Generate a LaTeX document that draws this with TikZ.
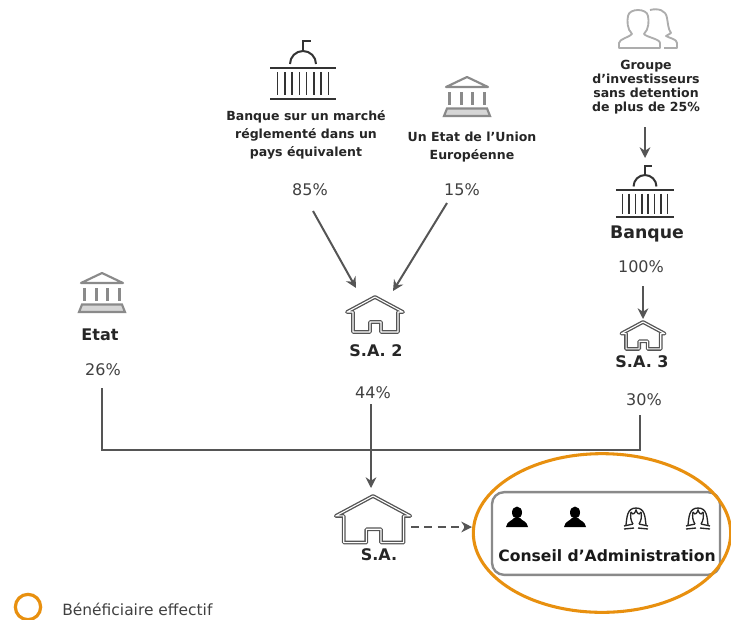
\documentclass[tikz,border=0pt]{standalone}
\usepackage{fontspec}
\setmainfont{DejaVu Sans}
\usetikzlibrary{arrows.meta,shapes.geometric}
\definecolor{linegray}{HTML}{555555}
\definecolor{icongray}{HTML}{8A8A8A}
\definecolor{beneforange}{HTML}{E8900F}
\tikzset{
  lbl/.style={font=\bfseries\fontsize{9.4}{13.5}\selectfont, align=center, text=black!85, inner sep=0pt},
  lblgroup/.style={font=\bfseries\fontsize{9.4}{10.5}\selectfont, align=center, text=black!85, inner sep=0pt},
  entity/.style={font=\bfseries\fontsize{12}{14}\selectfont, text=black!85, inner sep=0pt},
  pct/.style={font=\fontsize{12}{14}\selectfont, text=black!75, inner sep=0pt},
  conn/.style={draw=linegray, line width=1.5pt},
  arr/.style={conn, -{Stealth[length=8pt,width=8pt]}},
  bank/.pic={
    \draw[line width=1.7pt, black!80] (-33,0) -- (33,0);
    \draw[line width=1.7pt, black!80] (-33,31) -- (33,31);
    \foreach \i in {-3.5,-2.5,...,3.5}
      \draw[line width=1.2pt, black!80] ({\i*7.3},4) -- ({\i*7.3},27);
    \draw[line width=1.5pt, black!80] (-13,-4) arc (180:360:13);
    \draw[line width=1.5pt, black!80] (0,-17) -- (0,-27) -- (8,-27);
  },
  temple/.pic={
    \draw[line width=1.6pt, icongray, line join=round] (-21,10) -- (0,0) -- (21,10) -- cycle;
    \foreach \i in {-1.5,-.5,.5,1.5}
      \draw[line width=2.4pt, icongray] ({\i*11.5},15) -- ({\i*11.5},28);
    \draw[line width=1.6pt, icongray, fill=icongray!35] (-20,31.5) -- (20,31.5) -- (23,39) -- (-23,39) -- cycle;
  },
  house/.pic={
    \draw[linegray, line width=1pt, double=white, double distance=.8pt, line join=round]
      (-28,15) -- (0,0) -- (28,15) -- (23,15) -- (23,35) -- (6,35) -- (6,25)
      -- (-5,25) -- (-5,35) -- (-22,35) -- (-22,15) -- cycle;
  },
  person/.pic={
    \fill[black] (0,5.5) ellipse (5 and 6);
    \fill[black] (-11,20) .. controls (-10,14) and (-5,14) .. (-3,11) -- (3,11)
      .. controls (5,14) and (10,14) .. (11,20) -- cycle;
  },
  woman/.pic={
    \draw[black!85, line width=1pt] (-10,18) .. controls (-9,10) and (-9,1) .. (0,1)
      .. controls (9,1) and (9,10) .. (10,18);
    \draw[black!85, line width=1pt] (-5,5) .. controls (-3,9) and (-1,6) .. (0,3)
      .. controls (1,6) and (3,9) .. (5,5);
    \draw[black!85, line width=1pt] (-5,5) .. controls (-6,10) and (-5,14) .. (-3,17);
    \draw[black!85, line width=1pt] (5,5) .. controls (6,10) and (5,14) .. (3,17);
    \draw[black!85, line width=1pt] (-12,19) -- (-3,17);
    \draw[black!85, line width=1pt] (12,19) -- (3,17);
    \draw[black!85, line width=1pt] (-12,22) -- (-2,21);
    \draw[black!85, line width=1pt] (12,22) -- (2,21);
  },
  investors/.pic={
    \draw[icongray!70, line width=1.4pt, line join=round]
      (-19,39) -- (-19,34) .. controls (-19,30) and (-8,28) .. (-6,25)
      .. controls (-11,20) and (-11,12) .. (-10,7)
      .. controls (-9,-1) and (9,-1) .. (10,7)
      .. controls (11,12) and (11,20) .. (6,25)
      .. controls (8,28) and (22,30) .. (22,34) -- (22,39) -- cycle;
    \draw[icongray!70, line width=1.4pt, line join=round]
      (12,1) .. controls (20,-1) and (28,1) .. (29,9)
      .. controls (30,14) and (30,20) .. (33,24)
      .. controls (32,25) and (29,26) .. (28,27)
      .. controls (31,29) and (39,30) .. (39,34) -- (39,39) -- (26,39);
  }
}
\begin{document}
\begin{tikzpicture}[x=0.75pt, y=-0.75pt]
\useasboundingbox (0,0) rectangle (731,619);
% icons
\pic at (303,68) {bank};
\pic[scale=.88] at (645,190) {bank};
\pic at (467,77) {temple};
\pic at (102,273) {temple};
\pic at (375,297) {house};
\pic[scale=.77] at (643,322) {house};
\pic[scale=1.33] at (373,496) {house};
\pic at (517,507) {person};
\pic at (575,507) {person};
\pic at (636,507) {woman};
\pic at (698,507) {woman};
\pic at (638,9) {investors};
% labels
\node[lbl] (banqueEq) at (306,135) {Banque sur un marché\\réglementé dans un\\pays équivalent};
\node[lbl] (etatUE) at (472,147) {Un Etat de l’Union\\Européenne};
\node[lblgroup] (groupe) at (646,87) {Groupe\\d’investisseurs\\sans detention\\de plus de 25\%};
\node[entity, font=\bfseries\fontsize{13}{15}\selectfont] (banque) at (647,234) {Banque};
\node[entity] (etat) at (100,335) {Etat};
\node[entity] (sa2) at (376,351) {S.A. 2};
\node[entity] (sa3) at (642,362) {S.A. 3};
\node[entity] (sa) at (379,555) {S.A.};
\node[pct] (p85) at (310,190) {85\%};
\node[pct] (p15) at (462,190) {15\%};
\node[pct] (p100) at (641,267) {100\%};
\node[pct] (p44) at (373,393) {44\%};
\node[pct] (p26) at (103,370) {26\%};
\node[pct] (p30) at (644,400) {30\%};
% connectors
\coordinate (p85out) at (313,211);
\coordinate (p15out) at (447,203);
\coordinate (sa2inL) at (356,288);
\coordinate (sa2inR) at (393,291);
\coordinate (grpOut) at (645,127);
\coordinate (bqIn) at (645,158);
\coordinate (bqOut) at (643,286);
\coordinate (sa3In) at (643,319);
\coordinate (p44out) at (371,404);
\coordinate (saIn) at (371,488);
\coordinate (p26out) at (102,388);
\coordinate (p30out) at (640,415);
\coordinate (junction) at (102,450);
\coordinate (saOut) at (411,527);
\coordinate (conseilIn) at (472,527);
\draw[arr] (p85out) -- (sa2inL);
\draw[arr] (p15out) -- (sa2inR);
\draw[arr] (grpOut) -- (bqIn);
\draw[arr] (bqOut) -- (sa3In);
\draw[arr] (p44out) -- (saIn);
\draw[conn] (p26out) -- (junction) -| (p30out);
% conseil
\node[draw=icongray, line width=1.8pt, rounded corners=9pt, minimum width=171pt, minimum height=62pt] (conseil) at (606,533.5) {};
\node[font=\bfseries\fontsize{11.7}{13}\selectfont, text=black!90, inner sep=0pt] (conseilLbl) at (607,556) {Conseil d’Administration};
\draw[arr, dash pattern=on 6pt off 4pt] (saOut) -- (conseilIn);
\node[draw=beneforange, line width=2.3pt, ellipse, minimum width=193pt, minimum height=119pt, inner sep=0pt] (benef) at (602,533) {};
% legende
\node[draw=beneforange, line width=2.4pt, circle, minimum size=19pt, inner sep=0pt] (legendKey) at (28,607) {};
\node[anchor=west, inner sep=0pt, font=\fontsize{11.6}{13}\selectfont, text=black!75] (legendLbl) at (62,609) {Bénéficiaire effectif};
\end{tikzpicture}
\end{document}
